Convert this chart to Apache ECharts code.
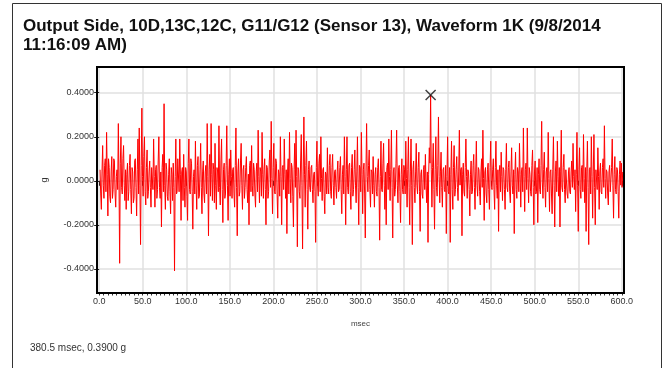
<!DOCTYPE html>
<html><head><meta charset="utf-8">
<script src="https://cdn.jsdelivr.net/npm/echarts@6/dist/echarts.min.js"></script>
<style>html,body{margin:0;padding:0;background:#fff}#c{width:668px;height:368px}</style>
</head><body><div id="c"></div><script>
const titleText = 'Output Side, 10D,13C,12C, G11/G12 (Sensor 13), Waveform 1K (9/8/2014\n11:16:09 AM)';
const xAxisName = 'msec';
const yAxisName = 'g';
const sampleStartMs = 1;
const samplePeriodMs = 0.75;
// acceleration (g), one value per sample (each row = 30 ms)
const amplitude = [
 0.05,-0.06,-0.13,0.04,0.16,-0.02,-0.08,0.07,0.10,-0.05,0.22,0.03,-0.16,0.10,0.06,-0.07,-0.10,0.04,0.11,-0.08,-0.04,0.10,0.09,-0.06,-0.12,0.02,0.05,-0.04,0.26,0.00,-0.375,0.08,0.20,-0.03,-0.06,0.10,0.16,-0.02,-0.09,0.05,
 -0.13,0.03,0.08,-0.09,-0.05,0.07,0.12,-0.04,-0.15,0.06,0.04,-0.10,-0.08,0.09,0.10,-0.03,-0.16,0.05,0.19,-0.06,0.24,-0.02,-0.29,0.07,0.33,0.02,-0.07,0.11,0.20,-0.05,-0.11,0.06,0.14,-0.08,-0.05,0.04,0.09,-0.03,-0.12,0.06,
 0.06,-0.04,0.19,0.02,-0.12,0.05,0.07,-0.08,-0.04,0.09,0.20,-0.03,-0.08,0.04,-0.21,0.06,0.12,-0.05,0.35,-0.02,-0.13,0.08,0.05,-0.07,-0.09,0.03,0.10,-0.05,-0.15,0.06,0.03,-0.09,0.08,-0.03,-0.41,0.02,0.19,-0.06,-0.05,0.10,
 0.10,-0.05,0.19,0.03,-0.18,0.04,0.06,-0.09,0.12,-0.03,-0.12,0.06,0.04,-0.07,-0.18,0.08,0.19,-0.04,-0.06,0.10,0.08,-0.05,-0.22,0.02,0.05,-0.06,0.18,-0.02,-0.13,0.07,0.11,-0.08,-0.07,0.05,0.17,-0.03,-0.15,0.04,0.09,-0.06,
 -0.10,0.04,0.07,-0.06,0.26,0.02,-0.25,0.05,0.12,-0.07,0.26,0.03,-0.09,0.08,0.05,-0.10,0.17,-0.02,-0.13,0.06,0.04,-0.05,0.25,-0.03,-0.11,0.09,0.19,-0.04,-0.19,0.05,0.08,-0.08,-0.06,0.07,0.25,-0.02,-0.18,0.03,0.10,-0.07,
 0.14,0.02,-0.08,0.05,0.06,-0.06,-0.12,0.07,0.24,-0.03,-0.25,0.04,0.10,-0.07,-0.05,0.09,0.17,-0.02,-0.13,0.05,0.07,-0.08,-0.03,0.06,0.11,-0.04,-0.10,0.03,-0.20,0.07,0.09,-0.05,0.16,-0.02,-0.07,0.08,0.05,-0.06,-0.12,0.04,
 0.08,-0.05,0.23,0.02,-0.10,0.06,0.04,-0.07,0.22,0.03,-0.08,0.05,0.10,-0.04,-0.20,0.07,0.06,-0.08,-0.05,0.09,0.14,-0.03,0.27,0.01,-0.15,0.06,0.17,-0.05,-0.06,0.10,0.08,-0.06,-0.17,0.05,0.03,-0.07,0.20,0.02,-0.20,0.06,
 0.07,-0.04,0.19,0.03,-0.08,0.05,-0.24,0.04,0.10,-0.06,0.22,0.01,-0.10,0.08,0.06,-0.07,-0.21,0.05,0.17,-0.03,0.23,0.02,-0.30,0.06,0.05,-0.05,-0.08,0.09,0.21,-0.02,-0.31,0.04,0.29,0.03,-0.12,0.07,0.18,-0.04,-0.22,0.05,
 0.09,-0.03,-0.05,0.06,0.07,-0.04,-0.10,0.03,0.04,-0.05,-0.28,0.06,0.18,-0.02,-0.07,0.08,0.12,-0.05,0.20,0.01,-0.09,0.05,0.06,-0.07,-0.15,0.04,0.03,-0.06,0.15,-0.03,-0.06,0.07,0.12,-0.05,-0.08,0.06,0.12,-0.02,-0.11,0.04,
 0.05,-0.03,-0.08,0.04,0.09,-0.05,-0.04,0.06,0.11,-0.04,-0.15,0.03,0.07,-0.06,0.20,0.02,-0.20,0.05,0.20,-0.03,-0.06,0.07,0.08,-0.05,-0.13,0.06,0.12,-0.07,-0.04,0.05,0.14,-0.02,-0.10,0.04,0.20,-0.03,-0.20,0.07,0.06,-0.05,
 0.22,0.03,-0.15,0.05,0.08,-0.06,-0.26,0.04,0.26,0.02,-0.05,0.07,0.14,-0.04,-0.12,0.05,0.04,-0.06,0.11,-0.02,-0.12,0.03,0.06,-0.05,-0.07,0.06,0.10,-0.03,-0.27,0.02,0.18,-0.04,-0.05,0.08,0.17,-0.02,-0.13,0.04,-0.20,0.06,
 0.08,-0.04,0.19,0.02,-0.09,0.05,0.23,-0.03,-0.26,0.04,0.06,-0.07,-0.04,0.08,0.23,-0.02,-0.10,0.06,0.07,-0.05,-0.19,0.03,0.10,-0.04,-0.06,0.07,0.05,-0.06,0.18,0.01,-0.12,0.05,0.20,-0.03,-0.20,0.04,0.19,-0.02,-0.29,0.05,
 0.09,-0.03,-0.10,0.04,0.17,-0.02,-0.06,0.06,0.13,-0.05,-0.23,0.03,0.05,-0.06,-0.08,0.05,0.07,-0.04,0.12,-0.02,-0.10,0.04,-0.28,0.03,0.15,0.08,0.39,0.05,-0.12,0.06,0.17,-0.04,-0.22,0.05,0.20,-0.03,-0.07,0.07,0.29,0.02,
 -0.10,0.04,0.13,-0.03,-0.12,0.05,0.06,-0.04,-0.05,0.07,-0.24,0.02,0.20,-0.05,-0.06,0.06,-0.28,0.03,0.18,-0.04,-0.13,0.06,0.16,-0.07,-0.04,0.05,0.11,-0.03,-0.09,0.04,0.23,-0.02,0.05,0.06,-0.25,0.03,0.08,-0.05,-0.07,0.06,
 0.19,0.02,-0.08,0.05,0.04,-0.04,-0.16,0.03,0.09,-0.06,-0.05,0.07,0.12,-0.03,-0.13,0.04,0.18,-0.02,-0.07,0.06,0.05,-0.05,-0.11,0.04,0.10,-0.03,0.23,0.01,-0.18,0.04,0.06,-0.06,-0.10,0.05,0.08,-0.04,-0.13,0.06,0.18,-0.03,
 -0.04,0.05,0.10,-0.04,-0.13,0.06,0.18,-0.02,-0.08,0.05,-0.23,0.04,0.07,-0.05,0.13,0.02,-0.09,0.06,0.05,-0.04,-0.13,0.05,0.17,-0.03,-0.05,0.06,0.09,-0.05,-0.10,0.04,0.15,-0.02,-0.06,0.05,-0.24,0.03,0.13,-0.04,-0.08,0.06,
 0.04,-0.05,0.17,0.03,-0.12,0.04,0.06,-0.05,0.24,0.02,-0.14,0.05,0.08,-0.04,0.24,0.01,-0.10,0.06,0.03,-0.05,-0.07,0.07,0.14,-0.03,-0.20,0.04,0.09,-0.06,-0.05,0.06,-0.19,0.03,0.10,-0.04,-0.06,0.07,0.27,-0.01,-0.08,0.05,
 0.13,-0.03,-0.12,0.04,0.06,-0.05,0.22,0.01,-0.14,0.04,0.05,-0.06,-0.15,0.05,0.20,-0.02,-0.21,0.04,0.09,-0.05,0.18,0.02,-0.07,0.06,-0.21,0.04,0.23,-0.03,-0.05,0.06,0.12,-0.04,-0.10,0.05,0.05,-0.06,-0.08,0.04,0.06,-0.05,
 -0.06,0.04,0.09,-0.03,0.17,0.02,-0.04,0.05,-0.14,0.03,0.22,-0.02,-0.23,0.05,0.15,-0.04,-0.08,0.06,0.07,-0.05,0.21,0.01,-0.10,0.06,-0.23,0.04,0.18,-0.03,-0.29,0.05,0.06,-0.06,0.20,0.02,-0.17,0.04,0.21,-0.03,-0.20,0.05,
 0.05,-0.04,0.15,0.02,-0.13,0.04,0.08,-0.05,-0.06,0.06,0.10,-0.03,0.25,0.01,-0.08,0.05,0.04,-0.06,-0.11,0.04,0.07,-0.05,-0.05,0.06,0.19,-0.02,-0.17,0.03,0.11,-0.04,-0.06,0.06,0.05,-0.05,-0.17,0.03,0.09,-0.02,0.08,-0.03,
 0.04
];
const xMajorTicks = [0,50,100,150,200,250,300,350,400,450,500,550,600];
const xMinorStep = 5;
const yTicks = [-0.4,-0.2,0,0.2,0.4];
const peakTime = 380.5;
const peakValue = 0.39;

const font = '"Liberation Sans", Arial, Helvetica, sans-serif';
const xMinorTicks = [];
for (let t = 0; t <= 600; t += xMinorStep) xMinorTicks.push(t);
const lineData = amplitude.map((v, i) => [sampleStartMs + i * samplePeriodMs, v]);

const chart = echarts.init(document.getElementById('c'), null, {renderer: 'canvas'});
chart.setOption({
  animation: false,
  backgroundColor: '#fff',
  grid: {left: 97, top: 67, width: 527, height: 226, show: false},
  xAxis: [{
    type: 'value', min: -2.5, max: 602.5,
    name: xAxisName, nameLocation: 'middle', nameGap: 27,
    nameTextStyle: {fontSize: 8, color: '#444', fontFamily: font},
    axisLine: {show: false},
    axisTick: {show: true, customValues: xMajorTicks, length: 5, lineStyle: {color: '#222', width: 1}},
    axisLabel: {customValues: xMajorTicks, formatter: v => v.toFixed(1), fontSize: 9, color: '#333', fontFamily: font, margin: 4},
    splitLine: {show: true, lineStyle: {color: '#e0e0e0', width: 1.5}}
  }, {
    type: 'value', min: -2.5, max: 602.5, position: 'bottom',
    axisLine: {show: false},
    axisTick: {show: true, customValues: xMinorTicks, length: 2.5, lineStyle: {color: '#333', width: 1}},
    axisLabel: {show: false},
    splitLine: {show: false}
  }],
  yAxis: {
    type: 'value', min: -0.51, max: 0.517,
    name: yAxisName, nameLocation: 'middle', nameGap: 48, nameRotate: 90,
    nameTextStyle: {fontSize: 9, color: '#333', fontFamily: font},
    axisLine: {show: false},
    axisTick: {show: true, customValues: yTicks, length: 5, lineStyle: {color: '#222', width: 1}},
    axisLabel: {customValues: yTicks, formatter: v => v.toFixed(4), fontSize: 9, color: '#333', fontFamily: font, margin: 3},
    splitLine: {show: true, lineStyle: {color: '#e0e0e0', width: 1.5}}
  },
  graphic: [
    {type: 'rect', z: 100, shape: {x: 12.5, y: 3.5, width: 649, height: 372}, style: {fill: 'none', stroke: '#333', lineWidth: 1}},
    {type: 'rect', z: 100, shape: {x: 97, y: 67, width: 527, height: 226}, style: {fill: 'none', stroke: '#000', lineWidth: 2}},
    {type: 'text', z: 100, left: 23, top: 17, style: {text: titleText, font: 'bold 17px ' + font, fill: '#111', lineHeight: 19}},
    {type: 'text', z: 100, left: 30, top: 343, style: {text: peakTime.toFixed(1) + ' msec, ' + peakValue.toFixed(4) + ' g', font: '10px ' + font, fill: '#333'}}
  ],
  series: [{
    type: 'line', data: lineData, showSymbol: false, symbol: 'none', silent: true,
    lineStyle: {color: '#ff0000', width: 1}, itemStyle: {color: '#ff0000'}, clip: true
  }, {
    type: 'scatter', data: [[peakTime, peakValue]], silent: true, z: 5,
    symbol: 'path://M0,0L10,10M10,0L0,10', symbolSize: 10,
    itemStyle: {color: 'none', borderColor: '#111', borderWidth: 1.5}
  }]
});
</script></body></html>
